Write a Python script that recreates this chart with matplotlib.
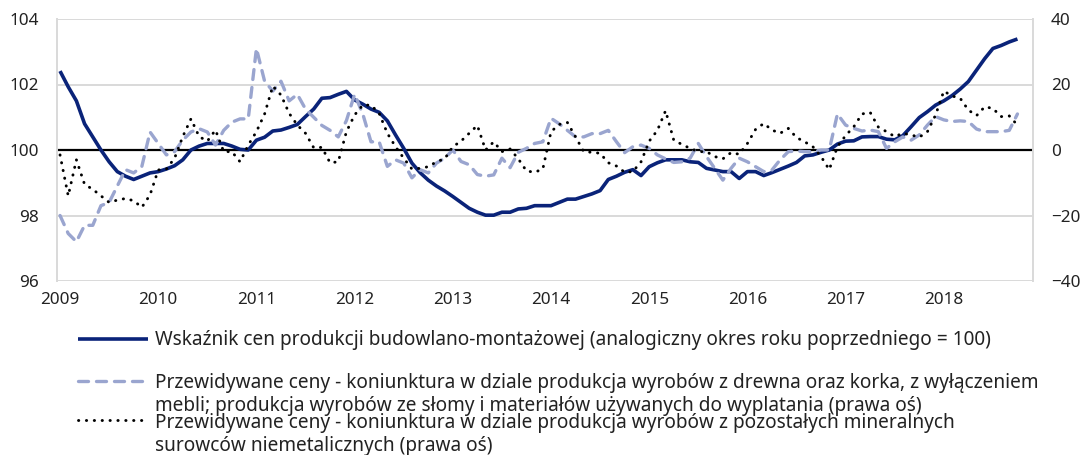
import matplotlib
matplotlib.use("Agg")
import matplotlib.pyplot as plt
from matplotlib.lines import Line2D
import numpy as np

plt.rcParams['font.family'] = ['Noto Sans', 'DejaVu Sans']

# monthly data, Jan 2009 - Oct 2018
years = ['2009', '2010', '2011', '2012', '2013', '2014', '2015', '2016', '2017', '2018']

# left axis: construction price index (same period previous year = 100)
wskaznik = [102.41, 101.93, 101.5, 100.8, 100.4, 100.0, 99.64, 99.34, 99.2, 99.1, 99.2, 99.3,
            99.34, 99.42, 99.52, 99.7, 100.0, 100.12, 100.2, 100.2, 100.2, 100.12, 100.02, 100.0,
            100.3, 100.39, 100.58, 100.61, 100.69, 100.78, 101.02, 101.25, 101.58, 101.6, 101.7, 101.79,
            101.53, 101.4, 101.25, 101.15, 100.89, 100.46, 100.05, 99.6, 99.31, 99.08, 98.9, 98.75,
            98.58, 98.4, 98.22, 98.1, 98.01, 98.01, 98.1, 98.1, 98.2, 98.22, 98.3, 98.3,
            98.3, 98.4, 98.5, 98.5, 98.58, 98.66, 98.76, 99.1, 99.2, 99.32, 99.4, 99.22,
            99.49, 99.61, 99.7, 99.7, 99.7, 99.64, 99.62, 99.44, 99.39, 99.34, 99.34, 99.13,
            99.34, 99.34, 99.22, 99.31, 99.41, 99.51, 99.62, 99.82, 99.85, 99.93, 100.0, 100.18,
            100.27, 100.28, 100.4, 100.41, 100.41, 100.33, 100.31, 100.44, 100.71, 100.99, 101.17, 101.37,
            101.5, 101.66, 101.86, 102.09, 102.44, 102.79, 103.1, 103.19, 103.3, 103.39]

# right axis: expected prices, wood industry
drewno = [-20, -25.5, -28, -23, -23, -17, -16, -11, -6, -7, -5, 5.5,
          2, -1.5, -0.5, 3, 5.5, 6.5, 5.5, 1.5, 6, 8.5, 9.5, 9.5,
          31, 21, 18, 21, 15, 17, 12.5, 10, 7.5, 6, 4, 9,
          17, 11, 2.5, 2.5, -5, -3, -4, -8.5, -6, -7, -4, -2.5,
          0, -3.5, -4.5, -7.5, -8, -7.6, -2.5, -5.4, -0.7, 0.5, 2, 2.5,
          9.7, 8, 6, 4, 4, 5, 5, 6, 2.5, -0.8, 1, 1.5,
          0.5, -1.5, -2.7, -3.8, -3.6, -2.5, 2, -2, -5.6, -9.2, -5.6, -2.5,
          -3.6, -5.1, -6.6, -6.1, -3, -0.5, -0.3, -0.5, -0.5, 0, 0, 11,
          7.6, 6.6, 5.8, 6.1, 5.6, 0.5, 2.5, 4, 3, 4.6, 7.6, 10.2,
          9.2, 8.7, 8.9, 8.7, 6.4, 5.6, 5.6, 5.6, 6, 11]

# right axis: expected prices, other non-metallic mineral products
mineralne = [-1.5, -14, -3, -10.5, -12, -14, -16, -15.3, -14.8, -15.5, -17.5, -13.7,
             -6.1, -5.8, -2.5, 4.1, 9.5, 4.1, 2.7, 6.1, -0.5, -0.5, -3.6, 1.5,
             5.6, 11, 19.5, 16.8, 11.2, 7.6, 5.1, 0.7, 0.8, -3.9, -3.6, 5.6,
             10.7, 13.7, 13.7, 11.2, 5.1, 1, -2.5, -5.8, -5.6, -5.1, -3.6, -2.7,
             1, 2.7, 5.1, 7.5, 0, 2.5, -0.5, 0.3, -2.7, -6.4, -6.8, -5.8,
             5.6, 7.8, 8.4, 4, -0.5, -0.7, -1, -3.9, -4.9, -6.8, -6.6, -3.6,
             2.7, 6, 12, 3, 1.7, 0.5, -0.5, -0.5, -2, -2.7, -0.8, -1.3,
             2, 6.3, 8.1, 6.1, 5.1, 6.6, 3.8, 2.5, 1, -2, -6, 1,
             4.4, 7.1, 11, 11.5, 7, 5.6, 4.1, 5.1, 4.6, 3.9, 5.6, 10.7,
             18, 16.5, 15.8, 12.2, 10.5, 13.2, 12.7, 10.2, 10.4, 7.6]

labels = [
    ['Wskaźnik cen produkcji budowlano-montażowej (analogiczny okres roku poprzedniego = 100)'],
    ['Przewidywane ceny - koniunktura w dziale produkcja wyrobów z drewna oraz korka, z wyłączeniem',
     'mebli; produkcja wyrobów ze słomy i materiałów używanych do wyplatania (prawa oś)'],
    ['Przewidywane ceny - koniunktura w dziale produkcja wyrobów z pozostałych mineralnych',
     'surowców niemetalicznych (prawa oś)'],
]

NAVY = '#0a2379'
LIGHT = '#9aa5cf'
GRID = '#d9d9d9'
TXT = '#222222'
FS = 12.3
LFS = 13.7

W, H = 1081, 455
fig = plt.figure(figsize=(W / 100, H / 100), dpi=100)
ax = fig.add_axes([57 / W, 1 - 281 / H, (1033 - 57) / W, (281 - 19) / H])
ax2 = ax.twinx()

x = np.arange(len(wskaznik))

styles = [
    dict(color=NAVY, lw=2.6, solid_capstyle='butt'),
    dict(color=LIGHT, lw=2.4, linestyle=(0, (3.0, 2.4)), dash_capstyle='round'),
    dict(color='black', lw=2.1, linestyle=(0, (0.1, 2.6)), dash_capstyle='round'),
]

ax.plot(x, wskaznik, zorder=4, **styles[0])
ax2.plot(x, drewno, zorder=3, **styles[1])
ax2.plot(x, mineralne, zorder=3, **styles[2])

ax.set_xlim(-0.37, 118.9)
ax.set_ylim(96, 104)
ax2.set_ylim(-40, 40)
ax.set_yticks([96, 98, 100, 102, 104])
ax2.set_yticks([-40, -20, 0, 20, 40])
ax.set_xticks(np.arange(0, 12 * len(years), 12))
ax.set_xticklabels(years)

for yv in [96, 98, 102, 104]:
    ax.axhline(yv, color=GRID, lw=1.4, zorder=0)
ax.axhline(100, color='black', lw=1.6, zorder=2)

for a in (ax, ax2):
    for s in a.spines.values():
        s.set_visible(False)
ax.spines['left'].set_visible(True)
ax.spines['left'].set_color(GRID)
ax.spines['left'].set_linewidth(1.4)
ax2.spines['right'].set_visible(True)
ax2.spines['right'].set_color(GRID)
ax2.spines['right'].set_linewidth(1.4)

ax.tick_params(axis='y', length=0, pad=13, labelsize=FS, labelcolor=TXT)
ax.tick_params(axis='x', length=0, pad=8, labelsize=FS, labelcolor=TXT)
ax2.tick_params(axis='y', length=0, pad=13, labelsize=FS, labelcolor=TXT)

# legend below the plot, handle level with the first text line
handle_y = [339, 381, 420]
first_base = [345, 388, 428]
line_gap = 22.7
for lines, st, hy, by in zip(labels, styles, handle_y, first_base):
    fy = 1 - hy / H
    fig.add_artist(Line2D([78 / W, 148 / W], [fy, fy], transform=fig.transFigure, **st))
    for k, txt in enumerate(lines):
        fig.text(155 / W, 1 - (by + k * line_gap) / H, txt, ha='left', va='baseline',
                 fontsize=LFS, color=TXT)

fig.savefig('out.png', dpi=100)
